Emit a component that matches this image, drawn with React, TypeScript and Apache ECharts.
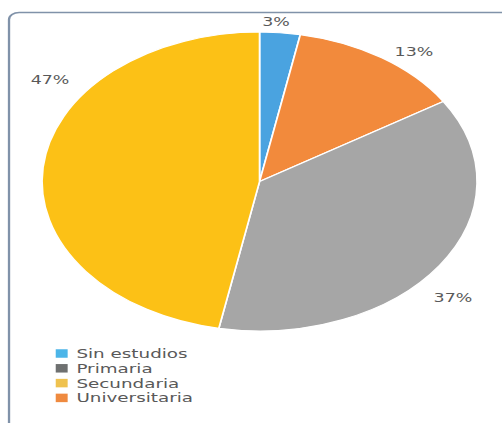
import React, { useEffect, useRef } from "react";
import * as echarts from "echarts";

// Education level shares (percent), in clockwise drawing order from 12 o'clock
const sliceNames = ["Sin estudios", "Universitaria", "Primaria", "Secundaria"];
const sliceValues = [3, 13, 37, 47];
const sliceColors = ["#4aa3e0", "#f28a3c", "#a6a6a6", "#fcc116"];

// Legend order and swatch colours
const legendNames = ["Sin estudios", "Primaria", "Secundaria", "Universitaria"];
const legendColors = ["#4cb5e8", "#6e7070", "#efc24f", "#ef8a3f"];

// The drawing is laid out on a narrow canvas and stretched horizontally
const STRETCH = 1.455;
const BASE_W = 502 / STRETCH;
const BASE_H = 423;

// Label anchors (canvas units) for each slice, same order as sliceNames
const labelAnchors: [number, number][] = [
  [189.7, 22],
  [284.5, 52],
  [311.3, 298],
  [34.4, 80],
];

export default function App() {
  const ref = useRef<HTMLDivElement>(null);

  useEffect(() => {
    if (!ref.current) return;
    const chart = echarts.init(ref.current, undefined, { renderer: "svg" });
    const font = "DejaVu Sans";
    chart.setOption({
      animation: false,
      backgroundColor: "#ffffff",
      graphic: [
        {
          type: "rect",
          shape: { x: 6.2, y: 12.5, width: 420, height: 440, r: 7 },
          style: { fill: "none", stroke: "#8092a9", lineWidth: 1.6 },
          silent: true,
        },
      ],
      legend: {
        orient: "vertical",
        left: 38.3,
        top: 347,
        padding: 0,
        icon: "rect",
        itemWidth: 8.2,
        itemHeight: 8.5,
        itemGap: 1.8,
        selectedMode: false,
        itemStyle: { borderWidth: 0 },
        textStyle: {
          fontFamily: font,
          fontSize: 12.6,
          lineHeight: 12,
          color: "#595959",
          padding: [0, 0, 0, 1],
        },
        data: legendNames.map((n, i) => ({
          name: n,
          itemStyle: { color: legendColors[i], borderWidth: 0 },
        })),
      },
      series: [
        {
          type: "pie",
          center: [178.4, 181.5],
          radius: 149.5,
          startAngle: 90,
          clockwise: true,
          avoidLabelOverlap: false,
          itemStyle: { borderColor: "#ffffff", borderWidth: 1.2 },
          label: {
            show: true,
            position: "outside",
            formatter: "{c}%",
            fontFamily: font,
            fontSize: 12,
            color: "#595959",
          },
          labelLine: { show: false },
          labelLayout: (params: any) => {
            const [x, y] = labelAnchors[params.dataIndex];
            return { x, y, align: "center", verticalAlign: "middle" };
          },
          emphasis: { disabled: true },
          data: sliceNames.map((n, i) => ({
            name: n,
            value: sliceValues[i],
            itemStyle: { color: sliceColors[i] },
          })),
        },
      ],
    });
    return () => chart.dispose();
  }, []);

  return (
    <div
      style={{
        position: "absolute",
        left: 0,
        top: 0,
        width: BASE_W * STRETCH,
        height: BASE_H,
        overflow: "hidden",
        background: "#ffffff",
      }}
    >
      <div
        ref={ref}
        style={{
          width: BASE_W,
          height: BASE_H,
          transform: `scaleX(${STRETCH})`,
          transformOrigin: "0 0",
        }}
      />
    </div>
  );
}
